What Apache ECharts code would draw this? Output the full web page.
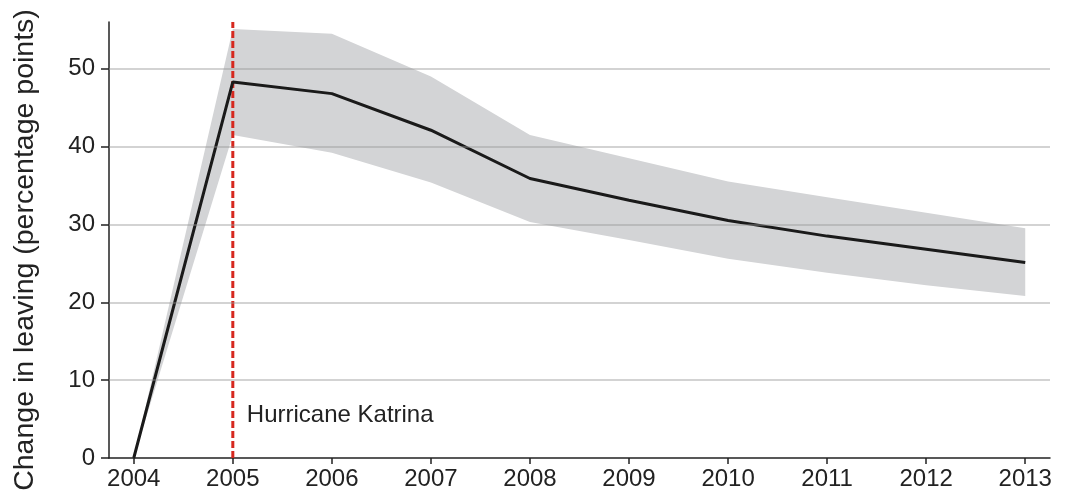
<!DOCTYPE html>
<html>
<head>
<meta charset="utf-8">
<script src="https://cdn.jsdelivr.net/npm/echarts@6/dist/echarts.min.js"></script>
<style>
  html, body { margin: 0; padding: 0; background: #fff; }
  #chart { width: 1065px; height: 496px; }
</style>
</head>
<body>
<div id="chart"></div>
<script>
// Years after the 2004 baseline
const years = [2004, 2005, 2006, 2007, 2008, 2009, 2010, 2011, 2012, 2013];
// Estimated change in leaving, percentage points
const estimate = [0, 48.3, 46.8, 42.1, 35.9, 33.1, 30.5, 28.5, 26.8, 25.1];
// Confidence band bounds
const lowerBound = [0, 41.5, 39.2, 35.4, 30.3, 28.0, 25.6, 23.8, 22.2, 20.8];
const upperBound = [0, 55.1, 54.5, 49.0, 41.5, 38.5, 35.5, 33.5, 31.5, 29.5];
// Y tick values
const yTicks = [0, 10, 20, 30, 40, 50];
// Event marker
const eventYear = 2005;
const eventLabel = 'Hurricane Katrina';
const eventLabelY = 5.5;
const yMax = 56;
const yName = 'Change in leaving (percentage points)';

const font = '"Liberation Sans", Arial, Helvetica, sans-serif';
const chart = echarts.init(document.getElementById('chart'), null, { renderer: 'canvas' });

const estData = years.map((y, i) => [y, estimate[i]]);

// Shaded band: one polygon running along the upper bound and back along the lower bound
function renderBand(params, api) {
  const top = years.map((y, i) => api.coord([y, upperBound[i]]));
  const bottom = years.map((y, i) => api.coord([y, lowerBound[i]])).reverse();
  return {
    type: 'polygon',
    shape: { points: top.concat(bottom) },
    style: { fill: '#d3d4d6', stroke: null }
  };
}

chart.setOption({
  animation: false,
  backgroundColor: '#ffffff',
  grid: { left: 109, right: 15, top: 22, bottom: 38 },
  graphic: [{
    type: 'text',
    x: 25,
    y: 250,
    rotation: Math.PI / 2,
    style: {
      text: yName,
      fill: '#222',
      font: '28.5px ' + font,
      textAlign: 'center',
      textVerticalAlign: 'middle'
    }
  }],
  xAxis: {
    type: 'value',
    min: 2003.75,
    max: 2013.25,
    axisLine: { show: true, lineStyle: { color: '#222', width: 1.5 } },
    axisTick: { show: true, customValues: years, length: 6, lineStyle: { color: '#222', width: 1.5 } },
    axisLabel: {
      customValues: years, margin: 9, color: '#222', fontSize: 24, fontFamily: font,
      formatter: v => String(v)
    },
    splitLine: { show: false }
  },
  yAxis: {
    type: 'value',
    min: 0,
    max: yMax,
    axisLine: { show: true, lineStyle: { color: '#222', width: 1.5 } },
    axisTick: { show: true, customValues: yTicks, length: 8, lineStyle: { color: '#222', width: 1.5 } },
    axisLabel: { customValues: yTicks, margin: 14, color: '#222', fontSize: 24, fontFamily: font },
    splitLine: { show: false }
  },
  series: [
    {
      name: 'band',
      type: 'custom',
      data: [0],
      renderItem: renderBand,
      silent: true,
      z: 1
    },
    {
      name: 'event',
      type: 'line',
      data: [[eventYear, 0], [eventYear, yMax]],
      symbol: 'none',
      clip: false,
      lineStyle: { color: '#d6281f', width: 3, type: [7, 3] },
      z: 2,
      markLine: {
        silent: true,
        symbol: 'none',
        label: { show: false },
        lineStyle: { color: 'rgba(150,150,150,0.55)', width: 1.5, type: 'solid' },
        data: yTicks.filter(v => v > 0).map(v => ({ yAxis: v }))
      },
      markPoint: {
        symbol: 'circle',
        symbolSize: 0,
        data: [{ coord: [eventYear, eventLabelY] }],
        label: {
          show: true,
          formatter: eventLabel,
          position: 'right',
          distance: 14,
          color: '#222',
          fontSize: 24,
          fontFamily: font
        }
      }
    },
    {
      name: 'estimate',
      type: 'line',
      data: estData,
      symbol: 'none',
      lineStyle: { color: '#1a1a1a', width: 3 },
      z: 3
    }
  ]
});
</script>
</body>
</html>
